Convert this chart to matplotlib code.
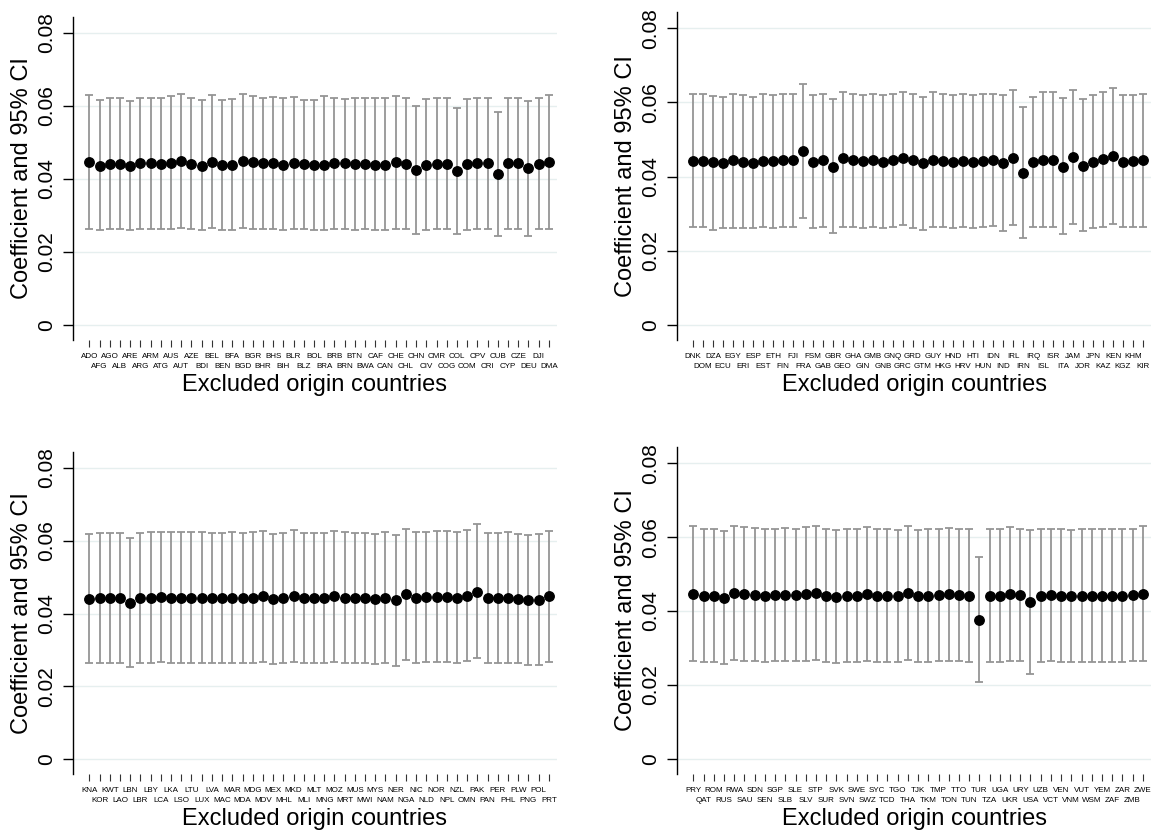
import matplotlib
matplotlib.use("Agg")
import matplotlib.pyplot as plt
import numpy as np

plt.rcParams['font.family'] = ['Liberation Sans', 'DejaVu Sans']

# ---- Panel 1: ADO .. DMA ----
countries_1 = ["ADO", "AFG", "AGO", "ALB", "ARE", "ARG", "ARM", "ATG", "AUS", "AUT",
               "AZE", "BDI", "BEL", "BEN", "BFA", "BGD", "BGR", "BHR", "BHS", "BIH",
               "BLR", "BLZ", "BOL", "BRA", "BRB", "BRN", "BTN", "BWA", "CAF", "CAN",
               "CHE", "CHL", "CHN", "CIV", "CMR", "COG", "COL", "COM", "CPV", "CRI",
               "CUB", "CYP", "CZE", "DEU", "DJI", "DMA"]
coef_1 = [0.0448, 0.0437, 0.0441, 0.0441, 0.0435, 0.0443, 0.0443, 0.0442, 0.0445, 0.0450,
          0.0440, 0.0437, 0.0448, 0.0439, 0.0439, 0.0450, 0.0446, 0.0443, 0.0444, 0.0439,
          0.0443, 0.0442, 0.0439, 0.0439, 0.0444, 0.0443, 0.0440, 0.0442, 0.0439, 0.0439,
          0.0446, 0.0442, 0.0424, 0.0439, 0.0441, 0.0441, 0.0421, 0.0440, 0.0443, 0.0443,
          0.0413, 0.0444, 0.0443, 0.0430, 0.0441, 0.0447]
upper_1 = [0.0629, 0.0616, 0.0622, 0.0622, 0.0613, 0.0623, 0.0623, 0.0623, 0.0627, 0.0634,
           0.0622, 0.0617, 0.0629, 0.0616, 0.0618, 0.0634, 0.0627, 0.0623, 0.0625, 0.0622,
           0.0624, 0.0617, 0.0617, 0.0627, 0.0623, 0.0620, 0.0622, 0.0623, 0.0622, 0.0623,
           0.0627, 0.0623, 0.0600, 0.0618, 0.0622, 0.0622, 0.0595, 0.0618, 0.0622, 0.0622,
           0.0585, 0.0623, 0.0623, 0.0615, 0.0622, 0.0629]
lower_1 = [0.0264, 0.0260, 0.0262, 0.0262, 0.0260, 0.0262, 0.0262, 0.0262, 0.0264, 0.0267,
           0.0262, 0.0260, 0.0267, 0.0260, 0.0260, 0.0267, 0.0264, 0.0262, 0.0262, 0.0260,
           0.0262, 0.0262, 0.0260, 0.0260, 0.0264, 0.0262, 0.0260, 0.0262, 0.0260, 0.0260,
           0.0264, 0.0262, 0.0250, 0.0260, 0.0262, 0.0262, 0.0250, 0.0260, 0.0262, 0.0262,
           0.0244, 0.0264, 0.0264, 0.0244, 0.0262, 0.0264]

# ---- Panel 2: DNK .. KIR ----
countries_2 = ["DNK", "DOM", "DZA", "ECU", "EGY", "ERI", "ESP", "EST", "ETH", "FIN",
               "FJI", "FRA", "FSM", "GAB", "GBR", "GEO", "GHA", "GIN", "GMB", "GNB",
               "GNQ", "GRC", "GRD", "GTM", "GUY", "HKG", "HND", "HRV", "HTI", "HUN",
               "IDN", "IND", "IRL", "IRN", "IRQ", "ISL", "ISR", "ITA", "JAM", "JOR",
               "JPN", "KAZ", "KEN", "KGZ", "KHM", "KIR"]
coef_2 = [0.0443, 0.0443, 0.0438, 0.0437, 0.0445, 0.0440, 0.0437, 0.0443, 0.0443, 0.0445,
          0.0444, 0.0469, 0.0440, 0.0444, 0.0427, 0.0449, 0.0445, 0.0442, 0.0446, 0.0440,
          0.0444, 0.0449, 0.0445, 0.0436, 0.0445, 0.0443, 0.0440, 0.0442, 0.0440, 0.0443,
          0.0445, 0.0437, 0.0450, 0.0409, 0.0438, 0.0446, 0.0446, 0.0427, 0.0453, 0.0429,
          0.0439, 0.0447, 0.0455, 0.0440, 0.0442, 0.0444]
upper_2 = [0.0623, 0.0623, 0.0618, 0.0616, 0.0623, 0.0619, 0.0616, 0.0623, 0.0619, 0.0623,
           0.0623, 0.0650, 0.0619, 0.0623, 0.0608, 0.0629, 0.0623, 0.0619, 0.0623, 0.0619,
           0.0623, 0.0629, 0.0623, 0.0616, 0.0627, 0.0623, 0.0619, 0.0623, 0.0619, 0.0623,
           0.0623, 0.0619, 0.0634, 0.0588, 0.0616, 0.0627, 0.0627, 0.0611, 0.0634, 0.0608,
           0.0619, 0.0627, 0.0638, 0.0619, 0.0619, 0.0623]
lower_2 = [0.0265, 0.0265, 0.0256, 0.0261, 0.0262, 0.0261, 0.0261, 0.0265, 0.0261, 0.0265,
           0.0265, 0.0287, 0.0261, 0.0265, 0.0249, 0.0265, 0.0265, 0.0262, 0.0265, 0.0261,
           0.0265, 0.0269, 0.0262, 0.0256, 0.0265, 0.0265, 0.0261, 0.0265, 0.0261, 0.0265,
           0.0267, 0.0253, 0.0269, 0.0234, 0.0265, 0.0265, 0.0265, 0.0246, 0.0272, 0.0253,
           0.0261, 0.0265, 0.0273, 0.0265, 0.0265, 0.0265]

# ---- Panel 3: KNA .. PRT ----
countries_3 = ["KNA", "KOR", "KWT", "LAO", "LBN", "LBR", "LBY", "LCA", "LKA", "LSO",
               "LTU", "LUX", "LVA", "MAC", "MAR", "MDA", "MDG", "MDV", "MEX", "MHL",
               "MKD", "MLI", "MLT", "MNG", "MOZ", "MRT", "MUS", "MWI", "MYS", "NAM",
               "NER", "NGA", "NIC", "NLD", "NOR", "NPL", "NZL", "OMN", "PAK", "PAN",
               "PER", "PHL", "PLW", "PNG", "POL", "PRT"]
coef_3 = [0.0441, 0.0443, 0.0442, 0.0443, 0.0430, 0.0442, 0.0444, 0.0445, 0.0443, 0.0444,
          0.0443, 0.0443, 0.0442, 0.0443, 0.0444, 0.0442, 0.0444, 0.0447, 0.0440, 0.0442,
          0.0448, 0.0442, 0.0442, 0.0443, 0.0447, 0.0444, 0.0443, 0.0442, 0.0441, 0.0444,
          0.0436, 0.0453, 0.0444, 0.0445, 0.0446, 0.0446, 0.0444, 0.0449, 0.0460, 0.0442,
          0.0442, 0.0444, 0.0441, 0.0437, 0.0438, 0.0447]
upper_3 = [0.0619, 0.0622, 0.0622, 0.0622, 0.0608, 0.0622, 0.0624, 0.0625, 0.0623, 0.0624,
           0.0623, 0.0623, 0.0622, 0.0622, 0.0623, 0.0622, 0.0624, 0.0628, 0.0619, 0.0622,
           0.0629, 0.0622, 0.0622, 0.0622, 0.0628, 0.0623, 0.0622, 0.0622, 0.0620, 0.0623,
           0.0617, 0.0633, 0.0623, 0.0625, 0.0626, 0.0626, 0.0624, 0.0629, 0.0645, 0.0622,
           0.0622, 0.0624, 0.0620, 0.0617, 0.0618, 0.0628]
lower_3 = [0.0264, 0.0265, 0.0264, 0.0265, 0.0252, 0.0264, 0.0265, 0.0266, 0.0264, 0.0265,
           0.0264, 0.0264, 0.0264, 0.0265, 0.0265, 0.0264, 0.0265, 0.0267, 0.0262, 0.0263,
           0.0267, 0.0264, 0.0264, 0.0265, 0.0266, 0.0265, 0.0264, 0.0263, 0.0262, 0.0265,
           0.0256, 0.0272, 0.0265, 0.0266, 0.0266, 0.0266, 0.0265, 0.0269, 0.0277, 0.0263,
           0.0263, 0.0264, 0.0263, 0.0258, 0.0259, 0.0267]

# ---- Panel 4: PRY .. ZWE ----
countries_4 = ["PRY", "QAT", "ROM", "RUS", "RWA", "SAU", "SDN", "SEN", "SGP", "SLB",
               "SLE", "SLV", "STP", "SUR", "SVK", "SVN", "SWE", "SWZ", "SYC", "TCD",
               "TGO", "THA", "TJK", "TKM", "TMP", "TON", "TTO", "TUN", "TUR", "TZA",
               "UGA", "UKR", "URY", "USA", "UZB", "VCT", "VEN", "VNM", "VUT", "WSM",
               "YEM", "ZAF", "ZAR", "ZMB", "ZWE"]
coef_4 = [0.0447, 0.0442, 0.0442, 0.0436, 0.0448, 0.0446, 0.0444, 0.0441, 0.0443, 0.0444,
          0.0443, 0.0446, 0.0449, 0.0441, 0.0439, 0.0441, 0.0442, 0.0446, 0.0442, 0.0441,
          0.0440, 0.0449, 0.0440, 0.0441, 0.0443, 0.0445, 0.0443, 0.0441, 0.0376, 0.0442,
          0.0441, 0.0446, 0.0443, 0.0425, 0.0441, 0.0443, 0.0442, 0.0440, 0.0442, 0.0442,
          0.0441, 0.0442, 0.0442, 0.0443, 0.0447]
upper_4 = [0.0630, 0.0622, 0.0622, 0.0617, 0.0631, 0.0627, 0.0625, 0.0621, 0.0623, 0.0625,
           0.0623, 0.0627, 0.0630, 0.0621, 0.0619, 0.0621, 0.0622, 0.0627, 0.0622, 0.0621,
           0.0620, 0.0631, 0.0620, 0.0621, 0.0623, 0.0626, 0.0623, 0.0621, 0.0545, 0.0622,
           0.0621, 0.0627, 0.0623, 0.0620, 0.0621, 0.0623, 0.0622, 0.0620, 0.0622, 0.0622,
           0.0621, 0.0622, 0.0622, 0.0623, 0.0630]
lower_4 = [0.0266, 0.0263, 0.0263, 0.0257, 0.0267, 0.0265, 0.0264, 0.0262, 0.0264, 0.0265,
           0.0264, 0.0265, 0.0268, 0.0262, 0.0260, 0.0262, 0.0263, 0.0266, 0.0263, 0.0262,
           0.0261, 0.0268, 0.0261, 0.0262, 0.0264, 0.0265, 0.0264, 0.0262, 0.0208, 0.0263,
           0.0262, 0.0266, 0.0264, 0.0230, 0.0262, 0.0264, 0.0263, 0.0261, 0.0263, 0.0263,
           0.0262, 0.0263, 0.0263, 0.0264, 0.0265]

y_ticks = [0, 0.02, 0.04, 0.06, 0.08]
y_tick_labels = ["0", "0.02", "0.04", "0.06", "0.08"]
x_title = "Excluded origin countries"
y_title = "Coefficient and 95% CI"

panels = [
    (countries_1, coef_1, lower_1, upper_1),
    (countries_2, coef_2, lower_2, upper_2),
    (countries_3, coef_3, lower_3, upper_3),
    (countries_4, coef_4, lower_4, upper_4),
]

W, H = 1159, 830
fig = plt.figure(figsize=(W / 100, H / 100), dpi=100)

# axes rectangles in pixels: left, top, width, height
rects = [(73, 17, 484, 323), (677, 12, 474, 328),
         (73, 452, 484, 322), (677, 447, 474, 327)]

grid_color = "#e6efef"
bar_color = "#959595"

for (names, coef, lo, hi), (lx, ty, w, h) in zip(panels, rects):
    ax = fig.add_axes([lx / W, 1 - (ty + h) / H, w / W, h / H])
    n = len(names)
    x = np.arange(1, n + 1)
    coef = np.asarray(coef)
    err = np.vstack([coef - np.asarray(lo), np.asarray(hi) - coef])
    ax.errorbar(x, coef, yerr=err, fmt="none", ecolor=bar_color,
                elinewidth=1.3, capsize=3.0, capthick=1.3, zorder=2)
    ax.plot(x, coef, "o", color="black", markersize=6.8, zorder=3)

    ax.set_ylim(-0.0041, 0.0844)
    ax.set_xlim(-0.6, n + 0.8)
    ax.set_yticks(y_ticks)
    ax.set_yticklabels(y_tick_labels, rotation=90, va="center", fontsize=15)
    for yv in y_ticks:
        ax.axhline(yv, color=grid_color, lw=1.0, zorder=0)

    # staggered two-row country codes: odd positions on the upper row,
    # even positions on the lower row
    ax.set_xticks(x[0::2])
    ax.set_xticklabels(names[0::2], fontsize=5.8)
    ax.set_xticks(x[1::2], minor=True)
    ax.set_xticklabels(names[1::2], minor=True, fontsize=5.8)
    ax.tick_params(axis="x", which="major", length=5, width=0.8,
                   color="#333333", pad=4)
    ax.tick_params(axis="x", which="minor", length=5, width=0.8,
                   color="#333333", pad=11.5)
    ax.tick_params(axis="y", length=7, width=1.0, pad=5)

    for s in ("top", "right", "bottom"):
        ax.spines[s].set_visible(False)
    ax.spines["left"].set_linewidth(1.0)

    ax.set_xlabel(x_title, fontsize=17, labelpad=3)
    ax.set_ylabel(y_title, fontsize=17, labelpad=3)

fig.savefig("out.png", dpi=100, facecolor="white")
